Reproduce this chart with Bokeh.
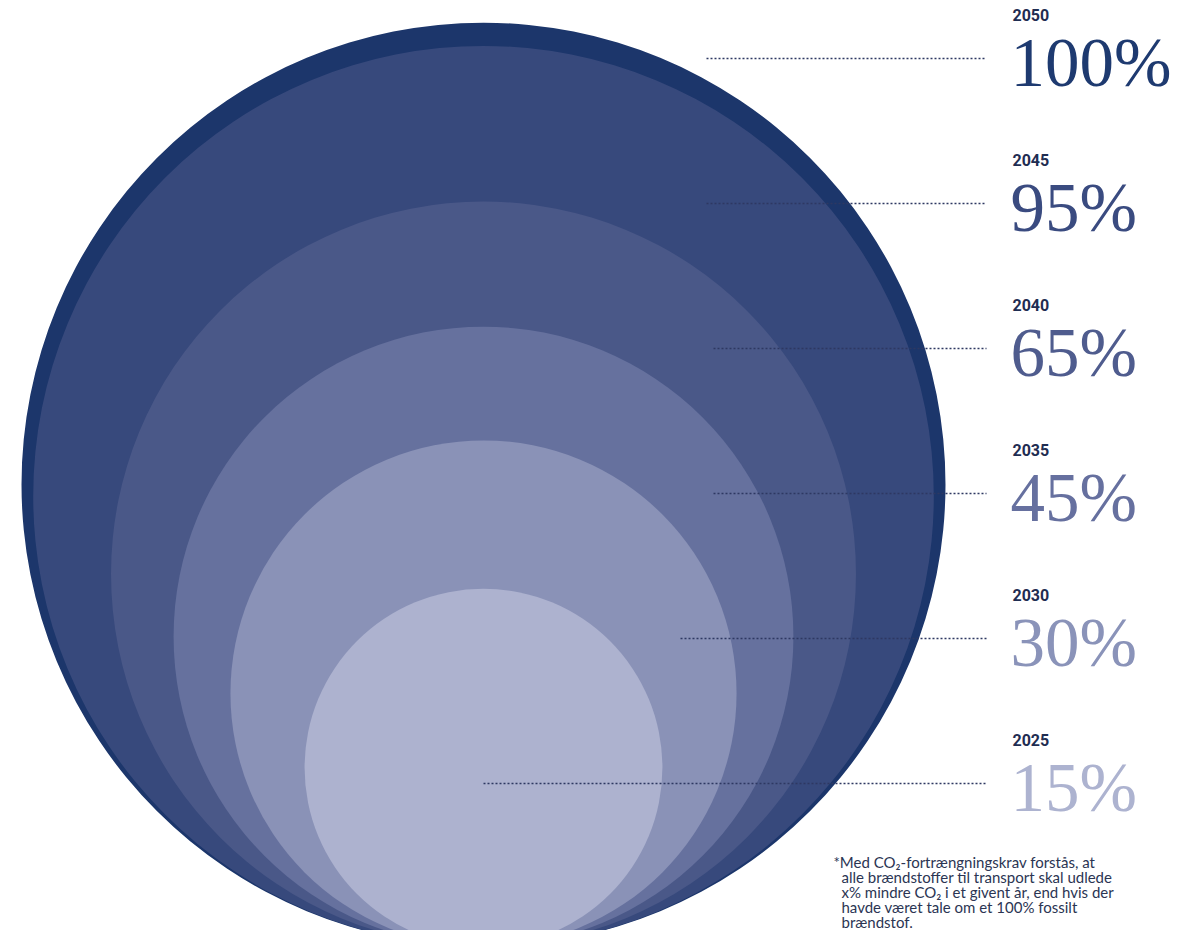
import numpy as np
from bokeh.plotting import figure
from bokeh.models import Range1d, ColumnDataSource
from bokeh.embed import file_html
from bokeh.resources import INLINE
from bokeh.core.properties import value

# ---------------- data ----------------
years = ["2050", "2045", "2040", "2035", "2030", "2025"]
percent = [100, 95, 65, 45, 30, 15]
percent_labels = [f"{v}%" for v in percent]
footnote_lines = [
    "*Med CO\u2082-fortrængningskrav forstås, at",
    "alle brændstoffer til transport skal udlede",
    "x% mindre CO\u2082 i et givent år, end hvis der",
    "havde været tale om et 100% fossilt",
    "brændstof.",
]

# ---------------- layout / style ----------------
W, H = 1170, 930
CX = 483            # common centre x of circles
BOTTOM = 946        # common tangent point (bottom)
RMAX = 462          # radius of the 100% circle
circle_colors = ["#1c366b", "#37497c", "#4a5888", "#66719e", "#8a92b7", "#adb2cf"]
label_colors = ["#1e3a70", "#3a4b80", "#4f5c8e", "#66709f", "#8a93b9", "#adb3d0"]
ROW0, ROW_STEP = 58, 145
leader_start = [706, 706, 713, 713, 680, 483]
LEADER_END = 986
LABEL_X = 1010

p = figure(width=W, height=H,
           x_range=Range1d(0, W), y_range=Range1d(H, 0),
           output_backend="svg", toolbar_location=None, min_border=0,
           x_axis_location=None, y_axis_location=None)
p.grid.visible = False
p.outline_line_color = None
p.background_fill_color = "white"
p.border_fill_color = "white"

radii = [RMAX * np.sqrt(v / 100.0) for v in percent]
src = ColumnDataSource(dict(
    x=[CX] * len(percent),
    y=[BOTTOM - r for r in radii],
    r=radii,
    c=circle_colors,
))
p.circle(x="x", y="y", radius="r", fill_color="c", line_color=None, source=src)

rows_y = [ROW0 + ROW_STEP * i for i in range(len(years))]
p.segment(x0=leader_start, y0=rows_y, x1=[LEADER_END] * len(years), y1=rows_y,
          line_color="#2e3862", line_width=1.6, line_dash="2 2")

p.text(x=[LABEL_X + 2] * len(years), y=[y - 44 for y in rows_y], text=years,
       text_font=value("Roboto"), text_font_style="bold", text_font_size="16px",
       text_baseline="middle", text_align="left", text_color="#1f2d52")

p.text(x=[LABEL_X] * len(years), y=[y + 4 for y in rows_y], text=percent_labels,
       text_font=value("Liberation Serif"), text_font_size="69px",
       text_baseline="alphabetic", text_align="left", text_color=label_colors)

fx = [833] + [841] * (len(footnote_lines) - 1)
fy = [861 + 15 * i for i in range(len(footnote_lines))]
p.text(x=fx, y=fy, text=footnote_lines, text_font=value("Lato"), text_font_size="15px",
       text_baseline="alphabetic", text_align="left", text_color="#2b3553")

open("out.html", "w").write(file_html(p, INLINE))
